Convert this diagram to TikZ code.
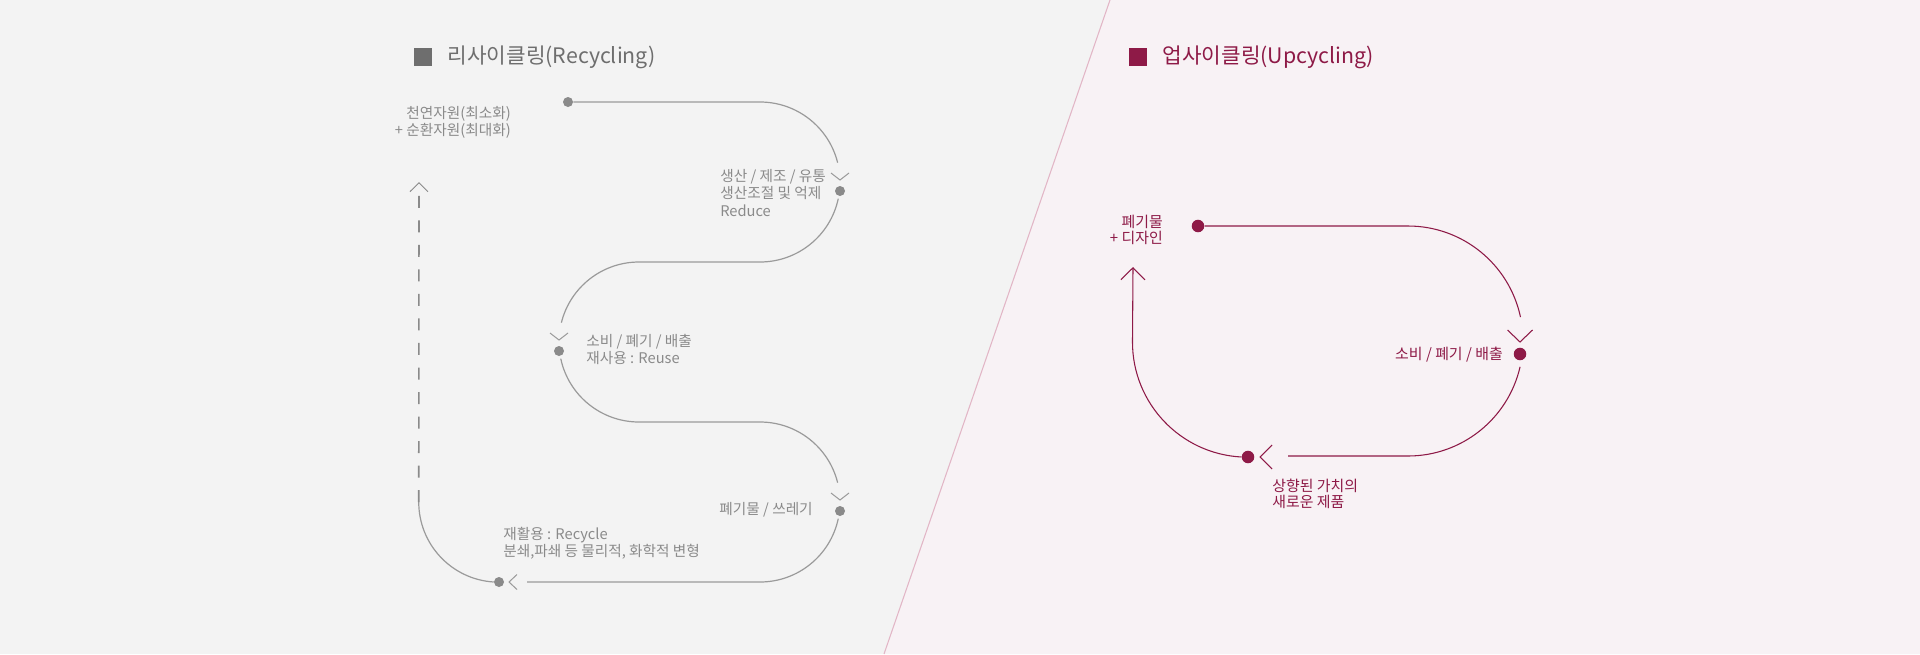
\documentclass[tikz,border=0pt]{standalone}
\usepackage{fontspec}
\setmainfont{Noto Sans CJK KR}
\usetikzlibrary{arrows.meta, positioning}
\definecolor{rcgray}{HTML}{9A9A9A}
\definecolor{rcink}{HTML}{8A8A8A}
\definecolor{rcdark}{HTML}{6E6E6E}
\definecolor{ucred}{HTML}{8E1A47}
\definecolor{bgleft}{HTML}{F3F3F3}
\definecolor{bgright}{HTML}{F8F2F5}
\definecolor{divider}{HTML}{E2B6C6}

\begin{document}
\begin{tikzpicture}[x=.75pt, y=-.75pt,
  rcline/.style={draw=rcgray, line width=.9pt},
  ucline/.style={draw=ucred, line width=.8pt},
  rcdot/.style={circle, fill=rcink, inner sep=0pt, minimum size=7.5pt},
  ucdot/.style={circle, fill=ucred, inner sep=0pt, minimum size=9.4pt},
  rcnote/.style={inner sep=0pt, text=rcink, font=\fontsize{11}{12.8}\selectfont},
  ucnote/.style={inner sep=0pt, text=ucred, font=\fontsize{11.2}{12.3}\selectfont},
  heading/.style={inner sep=0pt, font=\fontsize{16}{18}\selectfont}]
\useasboundingbox (0,0) rectangle (1920,654);
\fill[bgleft] (0,0) rectangle (1920,654);
\fill[bgright] (1110,0) -- (1920,0) -- (1920,654) -- (884,654) -- cycle;
\draw[divider, line width=.8pt] (1110,0) -- (884,654);
%
\node[fill=rcdark, minimum size=13.5pt, inner sep=0pt] (rc box) at (423,57) {};
\node[heading, text=rcdark, right=11.25pt of rc box] (rc title) {리사이클링(Recycling)};
\node[fill=ucred, minimum size=13.5pt, inner sep=0pt] (uc box) at (1138,57) {};
\node[heading, text=ucred, right=11.25pt of uc box] (uc title) {업사이클링(Upcycling)};
%
\node[rcdot] (rc start) at (568,102) {};
\node[rcdot] (rc reduce) at (840,191) {};
\node[rcdot] (rc reuse) at (559,351) {};
\node[rcdot] (rc waste) at (840,511) {};
\node[rcdot] (rc recycle) at (499,582) {};
\draw[rcline] (rc start) -- (760,102) arc[start angle=-90, end angle=-14, radius=80];
\draw[rcline] ([shift={(12:80)}]760,182) arc[start angle=12, end angle=90, radius=80]
  -- (639,262) arc[start angle=-90, end angle=-166, radius=80];
\draw[rcline] ([shift={(168:80)}]639,342) arc[start angle=168, end angle=90, radius=80]
  -- (760,422) arc[start angle=-90, end angle=-14, radius=80];
\draw[rcline] ([shift={(12:80)}]760,502) arc[start angle=12, end angle=90, radius=80]
  -- (527,582);
\draw[rcline] (rc recycle.west) arc[start angle=93.6, end angle=180, radius=80] coordinate (rc loop);
\draw[draw=rcink, line width=1.2pt, dash pattern=on 9pt off 9.4pt,
  -{Straight Barb[length=6.75pt, width=13.5pt, line width=.75pt]}] (rc loop) -- (419,182);
\foreach \p in {rc reduce, rc reuse, rc waste}
  \draw[rcline, line width=.75pt] (\p) ++(-9,-18) -- ++(9,7) -- ++(9,-7);
\draw[rcline, line width=.75pt] (rc recycle) ++(18,-7.5) -- ++(-8,7.5) -- ++(8,7.5);
%
\node[rcnote, anchor=east, align=right] (rc source) at (511,122) {천연자원(최소화)\\+ 순환자원(최대화)};
\node[rcnote, anchor=west, align=left] (rc reduce text) at (720,193) {생산 / 제조 / 유통\\생산조절 및 억제\\Reduce};
\node[rcnote, anchor=west, align=left] (rc reuse text) at (586,349) {소비 / 폐기 / 배출\\재사용 : Reuse};
\node[rcnote, anchor=east] (rc waste text) at (813,510) {폐기물 / 쓰레기};
\node[rcnote, anchor=west, align=left] (rc recycle text) at (503,543) {재활용 : Recycle\\분쇄,파쇄 등 물리적, 화학적 변형};
%
\node[ucdot] (uc start) at (1198,226) {};
\node[ucdot] (uc use) at (1520,354) {};
\node[ucdot] (uc product) at (1248,457) {};
\draw[ucline] (uc start) -- (1408,226) arc[start angle=-90, end angle=-12, radius=115];
\draw[ucline] ([shift={(13:115)}]1408,341) arc[start angle=13, end angle=90, radius=115] -- (1288,456);
\draw[ucline, -{Straight Barb[length=9pt, width=18pt]}] (uc product.west)
  arc[start angle=93, end angle=180, radius=115] -- (1133,267);
\draw[ucline] (uc use) ++(-12.5,-24) -- ++(12.5,12) -- ++(12.5,-12);
\draw[ucline] (uc product) ++(24,-12) -- ++(-12,12) -- ++(12,12);
%
\node[ucnote, anchor=east, align=right] (uc design) at (1163,230) {폐기물\\+ 디자인};
\node[ucnote, anchor=east] (uc use text) at (1503,355) {소비 / 폐기 / 배출};
\node[ucnote, anchor=west, align=left] (uc product text) at (1272,494) {상향된 가치의\\새로운 제품};
\end{tikzpicture}
\end{document}
